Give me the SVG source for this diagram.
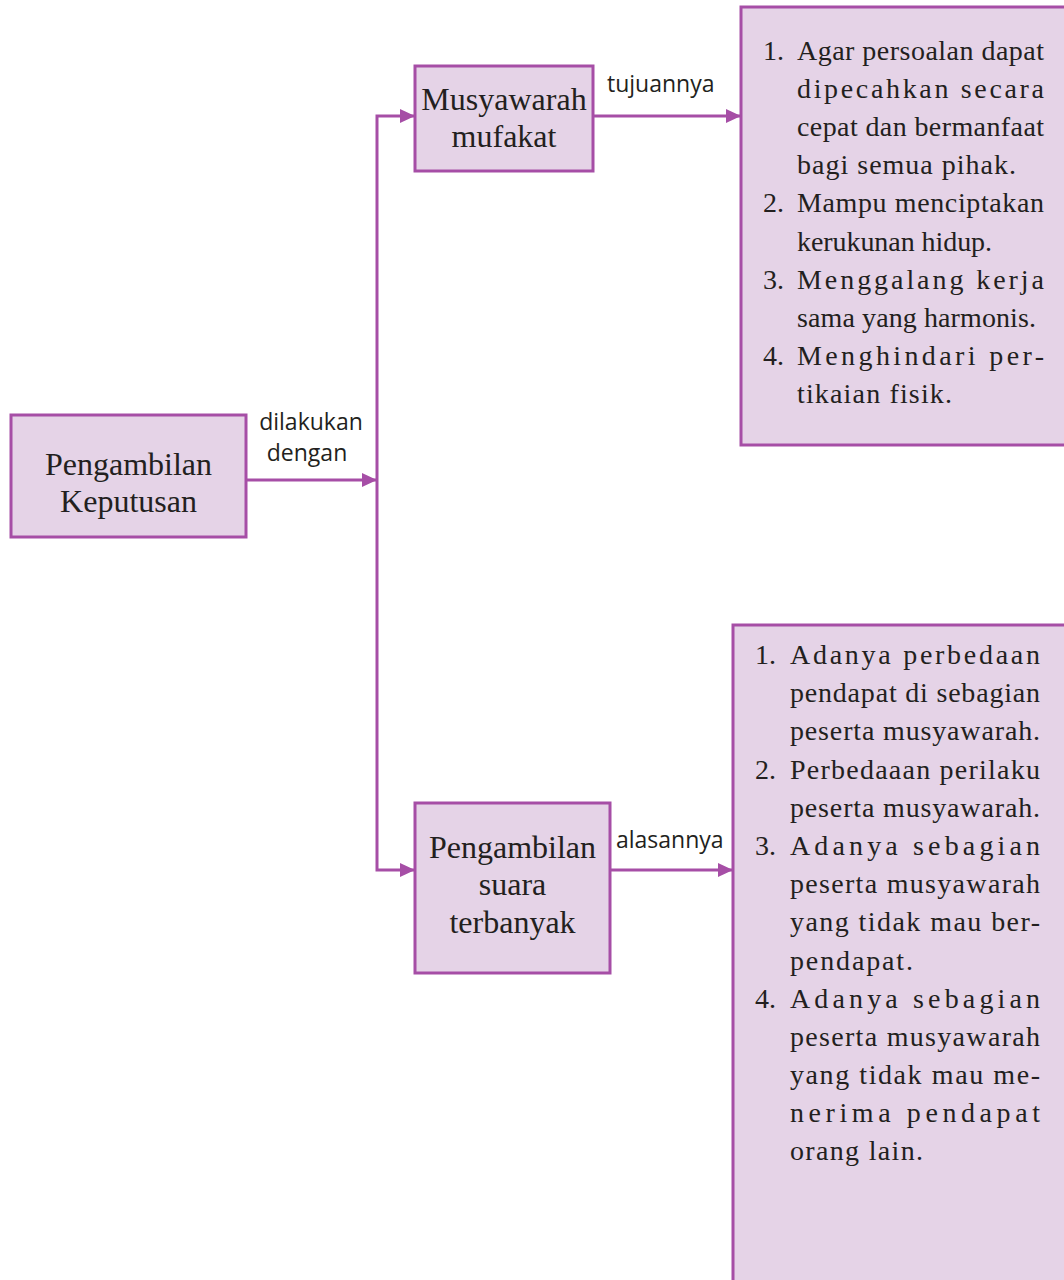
<svg xmlns="http://www.w3.org/2000/svg" width="1064" height="1280" viewBox="0 0 1064 1280">
<style>
.box{fill:#e5d3e7;stroke:#a64ea6;stroke-width:3}
.conn{fill:none;stroke:#a64ea6;stroke-width:3}
.t{font-family:"Liberation Serif","Times New Roman",serif;fill:#231f20}
.c{font-size:32px;text-anchor:middle}
.l{font-size:28px}
.lab{font-family:"Open Sans","Liberation Sans",sans-serif;font-size:23px;fill:#231f20}
</style>
<defs>
<marker id="arr" markerUnits="userSpaceOnUse" markerWidth="16" markerHeight="14" refX="15" refY="7" orient="auto-start-reverse">
<path d="M0,0 L15,7 L0,14 z" fill="#a64ea6"/>
</marker>
</defs>
<rect width="1064" height="1280" fill="#ffffff"/>

<g id="connectors">
<path class="conn" d="M246,480 H377" marker-end="url(#arr)"/>
<path class="conn" d="M415,116 H377 V870 H415" marker-start="url(#arr)" marker-end="url(#arr)"/>
<path class="conn" d="M593,116 H741" marker-end="url(#arr)"/>
<path class="conn" d="M610,870 H733" marker-end="url(#arr)"/>
<text class="lab" x="311" y="430" text-anchor="middle">dilakukan</text>
<text class="lab" x="307" y="461" text-anchor="middle">dengan</text>
<text class="lab" x="607" y="92">tujuannya</text>
<text class="lab" x="616" y="848">alasannya</text>
</g>

<g id="node-pengambilan-keputusan">
<rect class="box" x="11" y="415" width="235" height="122"/>
<text class="t c" x="128.5" y="475">Pengambilan</text>
<text class="t c" x="128.5" y="512">Keputusan</text>
</g>

<g id="node-musyawarah-mufakat">
<rect class="box" x="415" y="66" width="178" height="105"/>
<text class="t c" x="504" y="110">Musyawarah</text>
<text class="t c" x="504" y="147">mufakat</text>
</g>

<g id="node-pengambilan-suara">
<rect class="box" x="415" y="803" width="195" height="170"/>
<text class="t c" x="512.5" y="858">Pengambilan</text>
<text class="t c" x="512.5" y="895">suara</text>
<text class="t c" x="512.5" y="933">terbanyak</text>
</g>

<g id="node-tujuan">
<rect class="box" x="741" y="7" width="330" height="438"/>
<g class="t l">
<text x="763" y="60">1.</text>
<text x="797" y="60" textLength="247" lengthAdjust="spacing">Agar persoalan dapat</text>
<text x="797" y="98" textLength="247" lengthAdjust="spacing">dipecahkan secara</text>
<text x="797" y="136" textLength="247" lengthAdjust="spacing">cepat dan bermanfaat</text>
<text x="797" y="174" textLength="219" lengthAdjust="spacing">bagi semua pihak.</text>
<text x="763" y="212">2.</text>
<text x="797" y="212" textLength="247" lengthAdjust="spacing">Mampu menciptakan</text>
<text x="797" y="251" textLength="195" lengthAdjust="spacing">kerukunan hidup.</text>
<text x="763" y="289">3.</text>
<text x="797" y="289" textLength="247" lengthAdjust="spacing">Menggalang kerja</text>
<text x="797" y="327" textLength="239" lengthAdjust="spacing">sama yang harmonis.</text>
<text x="763" y="365">4.</text>
<text x="797" y="365" textLength="247" lengthAdjust="spacing">Menghindari per-</text>
<text x="797" y="403" textLength="155" lengthAdjust="spacing">tikaian fisik.</text>
</g>
</g>

<g id="node-alasan">
<rect class="box" x="733" y="625" width="340" height="670"/>
<g class="t l">
<text x="755" y="664">1.</text>
<text x="790" y="664" textLength="250" lengthAdjust="spacing">Adanya perbedaan</text>
<text x="790" y="702" textLength="250" lengthAdjust="spacing">pendapat di sebagian</text>
<text x="790" y="740" textLength="250" lengthAdjust="spacing">peserta musyawarah.</text>
<text x="755" y="779">2.</text>
<text x="790" y="779" textLength="250" lengthAdjust="spacing">Perbedaaan perilaku</text>
<text x="790" y="817" textLength="250" lengthAdjust="spacing">peserta musyawarah.</text>
<text x="755" y="855">3.</text>
<text x="790" y="855" textLength="250" lengthAdjust="spacing">Adanya sebagian</text>
<text x="790" y="893" textLength="250" lengthAdjust="spacing">peserta musyawarah</text>
<text x="790" y="931" textLength="250" lengthAdjust="spacing">yang tidak mau ber-</text>
<text x="790" y="970" textLength="123" lengthAdjust="spacing">pendapat.</text>
<text x="755" y="1008">4.</text>
<text x="790" y="1008" textLength="250" lengthAdjust="spacing">Adanya sebagian</text>
<text x="790" y="1046" textLength="250" lengthAdjust="spacing">peserta musyawarah</text>
<text x="790" y="1084" textLength="250" lengthAdjust="spacing">yang tidak mau me-</text>
<text x="790" y="1122" textLength="250" lengthAdjust="spacing">nerima pendapat</text>
<text x="790" y="1160" textLength="133" lengthAdjust="spacing">orang lain.</text>
</g>
</g>
</svg>
